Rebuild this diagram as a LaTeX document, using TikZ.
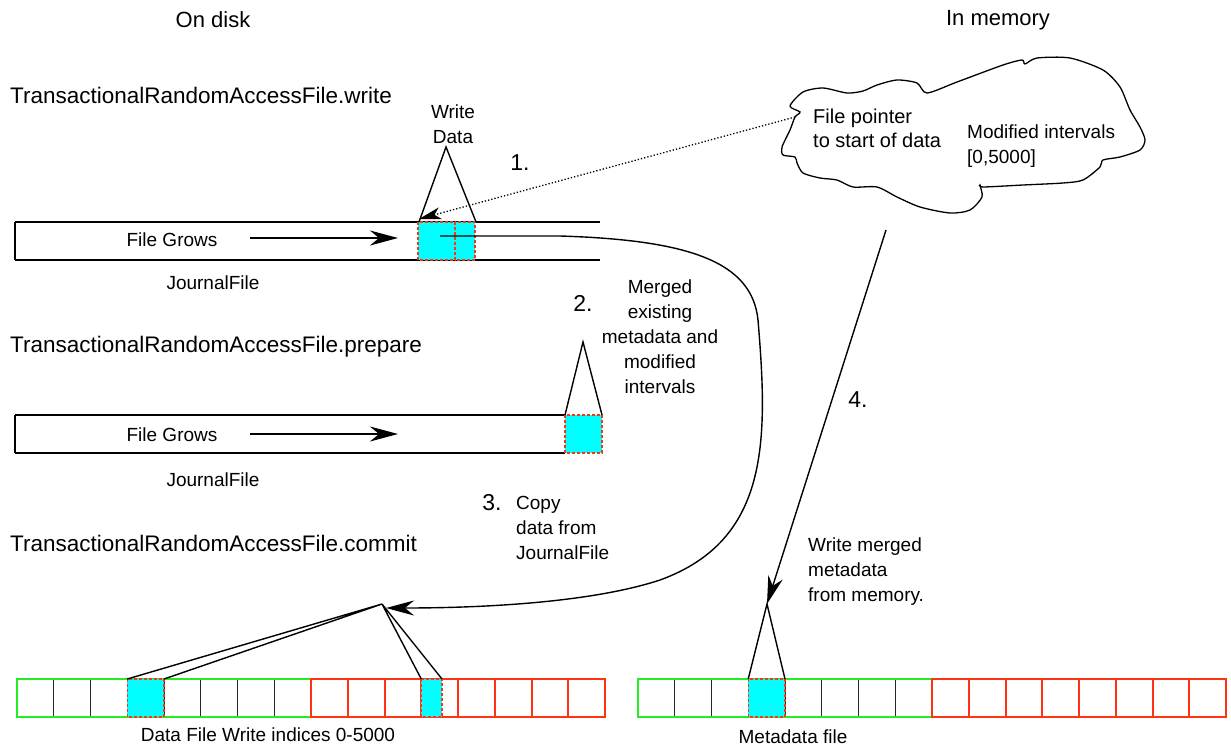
\documentclass[tikz,border=0pt]{standalone}
\usepackage{fontspec}
\setmainfont{Liberation Sans}
\usetikzlibrary{arrows.meta}
\definecolor{cyanfill}{HTML}{00FFFF}
\definecolor{greenb}{HTML}{22EE22}
\definecolor{redb}{HTML}{FF3311}
\begin{document}
\begin{tikzpicture}[x=1pt,y=-1pt,
  head/.style={font=\fontsize{22}{26}\selectfont, inner sep=0pt},
  big/.style={font=\fontsize{22.5}{27}\selectfont, inner sep=0pt, anchor=west},
  lbl/.style={font=\fontsize{19}{25}\selectfont, inner sep=0pt},
  num/.style={font=\fontsize{23}{27}\selectfont, inner sep=0pt},
  ln/.style={line width=1.4pt},
  cyanbox/.style={fill=cyanfill, draw=redb, dash pattern=on 3pt off 2pt, line width=1.3pt},
  arr/.style={-{Stealth[length=28pt,width=15pt,inset=9pt]}},
  greenline/.style={draw=greenb, line width=2pt},
  redline/.style={draw=redb, line width=2pt}]
\useasboundingbox (0,0) rectangle (1231,747);

% headings
\node[head] (ondisk) at (213,20) {On disk};
\node[head] (inmem) at (998,20) {In memory};
\node[big] (tw) at (10,95) {TransactionalRandomAccessFile.write};
\node[big] (tp) at (10,347) {TransactionalRandomAccessFile.prepare};
\node[big] (tc) at (10,543) {TransactionalRandomAccessFile.commit};

% ---------- journal 1
\draw[ln] (15,222) -- (600,222);
\draw[ln] (15,260) -- (600,260);
\draw[ln] (15,222) -- (15,260);
\path[cyanbox] (418,222) rectangle (455,260);
\path[cyanbox] (455,222) rectangle (475,260);
\coordinate (wapex) at (446,147);
\draw[ln] (419,222) -- (wapex) -- (476,222);
\node[lbl, align=center] (wdata) at (453,124) {Write\\Data};
\node[num] (n1) at (520,163) {1.};
\node[lbl] (fg1) at (172,240) {File Grows};
\coordinate (fg1a) at (250,238);
\coordinate (fg1b) at (398,238);
\draw[ln, arr] (fg1a) -- (fg1b);
\node[lbl] (jf1) at (213,283) {JournalFile};

% ---------- journal 2
\draw[ln] (15,415) -- (565,415);
\draw[ln] (15,453) -- (565,453);
\draw[ln] (15,415) -- (15,453);
\path[cyanbox] (565,415) rectangle (602,453);
\coordinate (papex) at (583,342);
\draw[ln] (565,415) -- (papex) -- (602,415);
\node[lbl] (fg2) at (172,435) {File Grows};
\coordinate (fg2a) at (250,434);
\coordinate (fg2b) at (398,434);
\draw[ln, arr] (fg2a) -- (fg2b);
\node[lbl] (jf2) at (213,480) {JournalFile};
\node[num] (n2) at (583,303) {2.};
\node[lbl, align=center] (merged) at (660,337) {Merged\\existing\\metadata and\\modified\\intervals};

% ---------- step 3
\node[num] (n3) at (492,503) {3.};
\node[lbl, align=left, anchor=west] (copy) at (516,528) {Copy\\data from\\JournalFile};

% ---------- data file array
\foreach \i in {0,...,7} {\draw[ln, draw=black!85] ({17+36.75*\i},679) -- ({17+36.75*\i},717);}
\draw[greenline] (17,679) rectangle (311,717);
\foreach \i in {9,...,15} {\draw[redline] ({17+36.75*\i},679) -- ({17+36.75*\i},717);}
\draw[redline] (311,679) rectangle (605,717);
\path[cyanbox] (127.25,679) rectangle (164,717);
\path[cyanbox] (421.25,679) rectangle (442,717);
\coordinate (capex) at (382,604);
\draw[ln] (127.25,679) -- (capex) -- (164,679);
\draw[ln] (421.25,679) -- (capex) -- (442,679);
\node[lbl] (dfw) at (268,735) {Data File Write indices 0-5000};

% curve arrow from journal to data file
\coordinate (cstart) at (440,236);
\coordinate (cend) at (386,608);
\draw[ln, arr] (cstart) -- (560,236) .. controls (690,240) and (752,262) .. (758,320)
   .. controls (768,440) and (770,540) .. (660,580)
   .. controls (590,603) and (480,608) .. (cend);

% ---------- metadata array
\foreach \i in {0,...,7} {\draw[ln, draw=black!85] ({638+36.75*\i},679) -- ({638+36.75*\i},717);}
\draw[greenline] (638,679) rectangle (932,717);
\foreach \i in {9,...,15} {\draw[redline] ({638+36.75*\i},679) -- ({638+36.75*\i},717);}
\draw[redline] (932,679) rectangle (1226,717);
\path[cyanbox] (748.25,679) rectangle (785,717);
\coordinate (mapex) at (767,604);
\draw[ln] (748.25,679) -- (mapex) -- (785,679);
\node[lbl] (mdf) at (793,737) {Metadata file};

% arrow 4
\coordinate (a4s) at (886,230);
\draw[ln, arr] (a4s) -- (mapex);
\node[num] (n4) at (858,400) {4.};
\node[lbl, align=left, anchor=west] (wmm) at (808,572) {Write merged\\metadata\\from memory.};

% ---------- cloud
\draw[line width=1.3pt] plot[smooth cycle, tension=0.45] coordinates {
 (800,112) (790,106) (803,92) (823,88) (847,93) (863,91) (877,85) (897,80) (917,83) (927,93)
 (957,82) (1003,65) (1022,60) (1025,64) (1037,58) (1070,58) (1103,70) (1120,87) (1130,110)
 (1140,127) (1145,140) (1140,150) (1120,157) (1103,160) (1100,167) (1083,180) (1063,183)
 (1023,185) (983,187) (980,185) (982,197) (970,210) (950,213) (920,207) (897,197) (877,187)
 (853,187) (837,180) (820,178) (803,173) (797,163) (795,157) (783,155) (782,147) (790,130) (795,117)};
\node[lbl, align=left, anchor=west, font=\fontsize{20}{24}\selectfont] (fp) at (813,128) {File pointer\\to start of data};
\node[lbl, align=left, anchor=west] (mi) at (967,146) {Modified intervals\\{[0,5000]}};
\coordinate (cloudl) at (795,117);
\coordinate (dtip) at (419,219);
\draw[dotted, line width=1.3pt, -{Stealth[length=22pt,width=12pt,inset=6pt]}] (cloudl) -- (dtip);
\end{tikzpicture}
\end{document}
